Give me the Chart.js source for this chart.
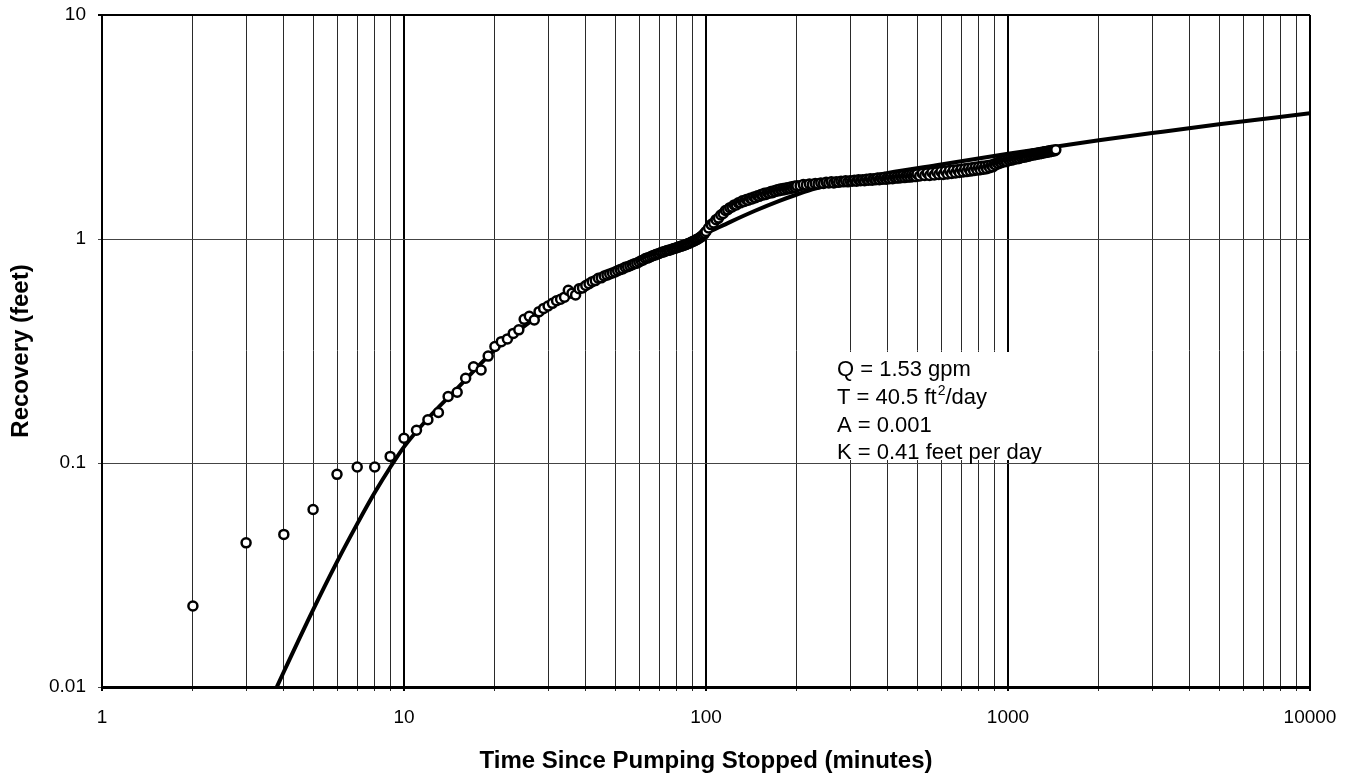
<!DOCTYPE html>
<html>
<head>
<meta charset="utf-8">
<script src="https://cdn.jsdelivr.net/npm/chart.js@4.4.1/dist/chart.umd.min.js"></script>
<style>
  html, body { margin: 0; padding: 0; background: #fff; }
</style>
</head>
<body>
<canvas id="chart" width="1345" height="778"></canvas>
<script>
// measured recovery (minutes since pumping stopped / feet)
const timeMin = [
  2, 3, 4, 5, 6, 7, 8, 9,
  10, 11, 12, 13, 14, 15, 16, 17, 18, 19,
  20, 21, 22, 23, 24, 25, 26, 27, 28, 29,
  30, 31, 32, 33, 34, 35, 36, 37, 38, 39,
  40, 41, 42, 43, 44, 45, 46, 47, 48, 49,
  50, 51, 52, 53, 54, 55, 56, 57, 58, 59,
  60, 61, 62, 63, 64, 65, 66, 67, 68, 69,
  70, 71, 72, 73, 74, 75, 76, 77, 78, 79,
  80, 81, 82, 83, 84, 85, 86, 87, 88, 89,
  90, 91, 92, 93, 94, 95, 96, 97, 98, 99, 100,
  102, 104, 106, 108, 110, 112, 114, 116, 118, 120,
  122, 124, 126, 128, 130, 132, 134, 136, 138, 140,
  142, 144, 146, 148, 150, 152, 154, 156, 158, 160,
  162, 164, 166, 168, 170, 172, 174, 176, 178, 180,
  182, 184, 186, 188, 190, 192, 194, 196, 198, 200,
  205, 210, 215, 220, 225, 230, 235, 240, 245, 250,
  255, 260, 265, 270, 275, 280, 285, 290, 295, 300,
  305, 310, 315, 320, 325, 330, 335, 340, 345, 350,
  355, 360, 365, 370, 375, 380, 385, 390, 395, 400,
  405, 410, 415, 420, 425, 430, 435, 440, 445, 450,
  455, 460, 465, 470, 475, 480, 485, 490, 495, 500,
  510, 520, 530, 540, 550, 560, 570, 580, 590, 600,
  610, 620, 630, 640, 650, 660, 670, 680, 690, 700,
  710, 720, 730, 740, 750, 760, 770, 780, 790, 800,
  810, 820, 830, 840, 850, 860, 870, 880, 890, 900,
  910, 920, 930, 940, 950, 960, 970, 980, 990, 1000,
  1010, 1020, 1030, 1040, 1050, 1060, 1070, 1080, 1090, 1100,
  1110, 1120, 1130, 1140, 1150, 1160, 1170, 1180, 1190, 1200,
  1210, 1220, 1230, 1240, 1250, 1260, 1270, 1280, 1290, 1300,
  1310, 1320, 1330, 1340, 1350, 1360, 1370, 1380, 1390, 1400,
  1410, 1420, 1430, 1440
];
const recoveryFt = [
  0.023, 0.044, 0.048, 0.062, 0.089, 0.096, 0.096, 0.107,
  0.129, 0.140, 0.156, 0.168, 0.198, 0.207, 0.239, 0.269, 0.260, 0.300,
  0.331, 0.348, 0.358, 0.379, 0.393, 0.438, 0.452, 0.435, 0.474, 0.490,
  0.502, 0.516, 0.530, 0.538, 0.550, 0.590, 0.572, 0.562, 0.600, 0.605,
  0.620, 0.632, 0.645, 0.652, 0.668, 0.671, 0.684, 0.690, 0.698, 0.705,
  0.712, 0.722, 0.730, 0.736, 0.748, 0.752, 0.760, 0.768, 0.776, 0.780,
  0.790, 0.800, 0.806, 0.818, 0.822, 0.830, 0.838, 0.845, 0.850, 0.858,
  0.862, 0.870, 0.874, 0.880, 0.886, 0.890, 0.894, 0.900, 0.905, 0.910,
  0.915, 0.920, 0.926, 0.930, 0.936, 0.940, 0.946, 0.952, 0.958, 0.965,
  0.972, 0.978, 0.986, 0.994, 1.00, 1.01, 1.02, 1.03, 1.045, 1.06, 1.08,
  1.12, 1.16, 1.18, 1.22, 1.24, 1.28, 1.30, 1.34, 1.35, 1.38,
  1.39, 1.42, 1.42, 1.45, 1.45, 1.48, 1.47, 1.50, 1.49, 1.52,
  1.51, 1.54, 1.53, 1.56, 1.55, 1.58, 1.57, 1.60, 1.58, 1.61,
  1.60, 1.63, 1.61, 1.64, 1.63, 1.66, 1.64, 1.67, 1.65, 1.68,
  1.66, 1.69, 1.67, 1.70, 1.68, 1.71, 1.69, 1.72, 1.70, 1.73,
  1.73, 1.75, 1.74, 1.76, 1.75, 1.77, 1.76, 1.78, 1.77, 1.79,
  1.78, 1.80, 1.78, 1.80, 1.79, 1.81, 1.80, 1.82, 1.80, 1.82,
  1.81, 1.83, 1.81, 1.84, 1.82, 1.84, 1.82, 1.85, 1.83, 1.86,
  1.83, 1.86, 1.84, 1.87, 1.84, 1.87, 1.85, 1.88, 1.85, 1.88,
  1.86, 1.89, 1.86, 1.90, 1.87, 1.90, 1.87, 1.91, 1.88, 1.92,
  1.88, 1.92, 1.89, 1.93, 1.89, 1.94, 1.90, 1.94, 1.90, 1.95,
  1.91, 1.96, 1.92, 1.97, 1.92, 1.98, 1.93, 1.99, 1.94, 2.00,
  1.94, 2.01, 1.95, 2.02, 1.96, 2.03, 1.97, 2.04, 1.98, 2.05,
  1.99, 2.06, 2.00, 2.07, 2.01, 2.08, 2.02, 2.09, 2.03, 2.10,
  2.04, 2.11, 2.05, 2.12, 2.06, 2.13, 2.08, 2.14, 2.10, 2.16,
  2.14, 2.19, 2.17, 2.21, 2.19, 2.23, 2.21, 2.25, 2.22, 2.27,
  2.24, 2.28, 2.25, 2.29, 2.27, 2.31, 2.28, 2.32, 2.29, 2.33,
  2.31, 2.34, 2.32, 2.35, 2.33, 2.37, 2.34, 2.38, 2.36, 2.39,
  2.37, 2.40, 2.38, 2.41, 2.39, 2.42, 2.40, 2.43, 2.41, 2.44,
  2.42, 2.45, 2.43, 2.46, 2.44, 2.47, 2.45, 2.48, 2.46, 2.49,
  2.47, 2.49, 2.48, 2.50
];

// fitted recovery curve
const curveTime = [3.5, 4, 5, 6, 7, 8, 9, 10, 12, 15, 20, 30, 40, 50, 70, 100, 120, 146, 175, 200, 230, 300, 400, 600, 1000, 1432, 2000, 3000, 5000, 10000];
const curveRecovery = [0.0079, 0.0117, 0.0221, 0.0362, 0.0535, 0.0738, 0.0955, 0.118, 0.158, 0.215, 0.32, 0.485, 0.61, 0.70, 0.86, 1.06, 1.19, 1.34, 1.48, 1.58, 1.68, 1.82, 1.97, 2.15, 2.40, 2.58, 2.76, 2.97, 3.25, 3.64];

// axes
const xDecades = [1, 10, 100, 1000, 10000];
const xTickLabels = ['1', '10', '100', '1000', '10000'];
const minorSteps = [2, 3, 4, 5, 6, 7, 8, 9];
const yDecades = [0.01, 0.1, 1, 10];
const yTickLabels = ['0.01', '0.1', '1', '10'];

const noteLines = ['Q = 1.53 gpm', ['T = 40.5 ft', '2', '/day'], 'A = 0.001', 'K = 0.41 feet per day'];

const FONT = '"Liberation Sans", Arial, sans-serif';
Chart.defaults.font.family = FONT;
Chart.defaults.color = '#000';

const xGridValues = [];
xDecades.forEach((d, i) => {
  xGridValues.push(d);
  if (i < xDecades.length - 1) minorSteps.forEach((m) => xGridValues.push(d * m));
});

const noteBox = {
  id: 'noteBox',
  beforeDatasetsDraw(chart) {
    const ctx = chart.ctx;
    const left = 830;
    const top = 352;
    ctx.save();
    ctx.fillStyle = '#fff';
    ctx.fillRect(left, top, 222, 108);
    ctx.fillStyle = '#000';
    ctx.font = '22px ' + FONT;
    ctx.textBaseline = 'alphabetic';
    const textX = left + 7;
    noteLines.forEach((line, i) => {
      const y = top + 24 + i * 27.8;
      if (Array.isArray(line)) {
        ctx.fillText(line[0], textX, y);
        let w = ctx.measureText(line[0]).width;
        ctx.font = '14px ' + FONT;
        ctx.fillText(line[1], textX + w + 1, y - 9);
        w += ctx.measureText(line[1]).width + 1;
        ctx.font = '22px ' + FONT;
        ctx.fillText(line[2], textX + w, y);
      } else {
        ctx.fillText(line, textX, y);
      }
    });
    ctx.restore();
  }
};

new Chart(document.getElementById('chart'), {
  type: 'scatter',
  data: {
    datasets: [
      {
        label: 'Measured recovery',
        data: timeMin.map((t, i) => ({ x: t, y: recoveryFt[i] })),
        pointRadius: 4.5,
        pointBorderWidth: 2.5,
        pointBorderColor: '#000',
        pointBackgroundColor: '#fff',
        order: 1,
      },
      {
        label: 'Fitted curve',
        data: curveTime.map((t, i) => ({ x: t, y: curveRecovery[i] })),
        showLine: true,
        pointRadius: 0,
        borderColor: '#000',
        borderWidth: 4,
        cubicInterpolationMode: 'monotone',
        order: 2,
      },
    ],
  },
  options: {
    responsive: false,
    animation: false,
    layout: { padding: { top: 15, right: 35, left: 0, bottom: 0 } },
    plugins: {
      legend: { display: false },
      tooltip: { enabled: false },
    },
    scales: {
      x: {
        type: 'logarithmic',
        min: 1,
        max: 10000,
        afterBuildTicks: (scale) => {
          scale.ticks = xGridValues.map((v) => ({ value: v, major: xDecades.includes(v) }));
        },
        afterFit: (scale) => {
          scale.height = 91;
          scale.paddingLeft = 0;
          scale.paddingRight = 0;
        },
        ticks: {
          autoSkip: false,
          maxRotation: 0,
          minRotation: 0,
          padding: 15,
          font: { size: 19 },
          color: '#000',
          callback: (v) => {
            const i = xDecades.indexOf(v);
            return i >= 0 ? xTickLabels[i] : '';
          },
        },
        grid: {
          color: (c) => (xDecades.includes(c.tick && c.tick.value) ? '#000' : '#2a2a2a'),
          lineWidth: (c) => (xDecades.includes(c.tick && c.tick.value) ? 2 : 1),
          tickLength: 4,
        },
        border: { color: '#000', width: 3 },
        title: {
          display: true,
          text: 'Time Since Pumping Stopped (minutes)',
          font: { size: 24, weight: 'bold' },
          color: '#000',
          padding: { top: 0, bottom: 2 },
        },
      },
      y: {
        type: 'logarithmic',
        min: 0.01,
        max: 10,
        afterBuildTicks: (scale) => {
          scale.ticks = yDecades.map((v) => ({ value: v, major: true }));
        },
        afterFit: (scale) => {
          scale.width = 102;
          scale.paddingTop = 0;
          scale.paddingBottom = 0;
        },
        ticks: {
          padding: 12,
          font: { size: 19 },
          color: '#000',
          callback: (v) => {
            const i = yDecades.indexOf(v);
            return i >= 0 ? yTickLabels[i] : '';
          },
        },
        grid: {
          color: (c) => (c.tick && c.tick.value === 10 ? '#000' : '#444'),
          lineWidth: (c) => (c.tick && c.tick.value === 10 ? 2 : 1),
          tickLength: 4,
        },
        border: { color: '#000', width: 2 },
        title: {
          display: true,
          text: 'Recovery (feet)',
          font: { size: 24, weight: 'bold' },
          color: '#000',
          padding: { top: 7, bottom: 0 },
        },
      },
    },
  },
  plugins: [noteBox],
});
</script>
</body>
</html>
